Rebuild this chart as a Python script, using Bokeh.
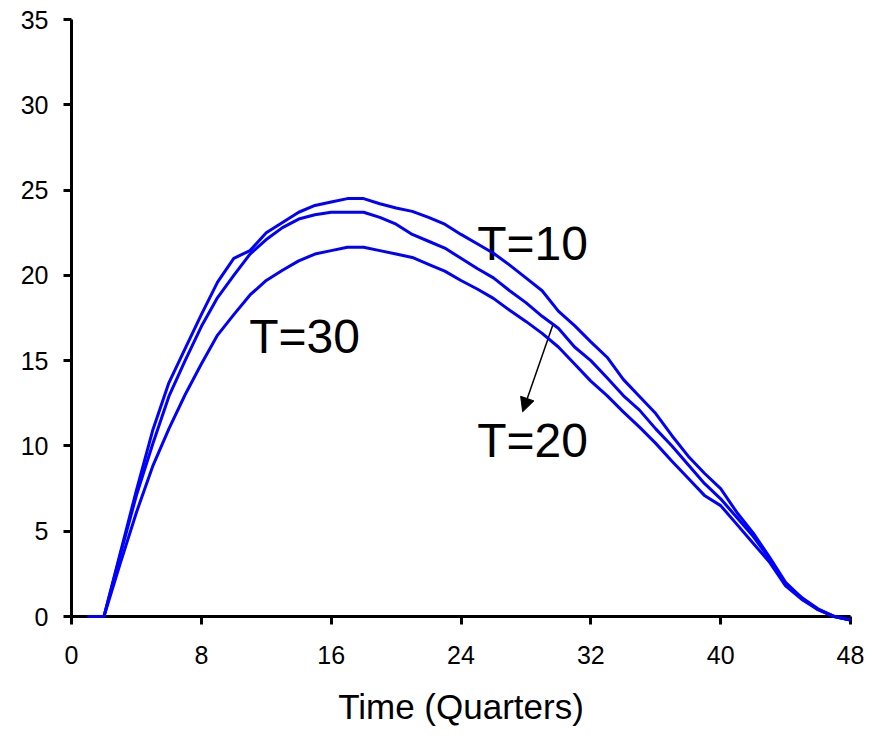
from bokeh.plotting import figure
from bokeh.models import Range1d, FixedTicker, Arrow, NormalHead, Label
from bokeh.embed import file_html
from bokeh.resources import INLINE

quarters = list(range(1, 49))

t10 = [0, 0, 3.7, 7.4, 10.9, 13.7, 15.7, 17.7, 19.6, 21.0,
       21.45, 22.5, 23.1, 23.7, 24.1, 24.3, 24.5, 24.5, 24.2, 23.95,
       23.75, 23.4, 23.0, 22.4, 21.85, 21.3, 20.6, 19.85, 19.1, 17.9,
       17.05, 16.1, 15.2, 13.9, 12.9, 11.9, 10.6, 9.4, 8.4, 7.5,
       6.1, 4.9, 3.5, 2.0, 1.1, 0.45, 0.0, -0.2]

t20 = [0, 0, 3.6, 7.1, 10.1, 12.9, 15.0, 17.0, 18.7, 20.0,
       21.25, 22.1, 22.8, 23.3, 23.55, 23.7, 23.7, 23.7, 23.4, 23.0,
       22.4, 22.0, 21.6, 21.0, 20.4, 19.85, 19.1, 18.4, 17.6, 16.9,
       15.8, 15.0, 14.0, 12.95, 12.1, 11.0, 10.0, 8.9, 7.8, 6.9,
       5.8, 4.7, 3.4, 1.9, 1.1, 0.4, 0.0, -0.2]

t30 = [0, 0, 3.1, 6.1, 8.8, 11.0, 13.0, 14.8, 16.5, 17.7,
       18.85, 19.7, 20.3, 20.85, 21.25, 21.45, 21.65, 21.65, 21.45, 21.25,
       21.05, 20.65, 20.25, 19.7, 19.2, 18.65, 17.95, 17.3, 16.6, 15.8,
       14.8, 13.8, 12.95, 12.0, 11.1, 10.15, 9.1, 8.1, 7.1, 6.5,
       5.4, 4.3, 3.2, 1.8, 1.0, 0.4, 0.0, -0.2]

x_ticks = [0, 8, 16, 24, 32, 40, 48]
y_ticks = [0, 5, 10, 15, 20, 25, 30, 35]

labels = ["T=10", "T=20", "T=30"]
label_x = [25.0, 25.0, 10.95]
label_y = [21.85, 10.3, 16.4]

arrow_start = (29.7, 17.2)
arrow_end = (27.8, 12.0)

FONT = "Liberation Sans"

p = figure(width=864, height=735, output_backend="svg", toolbar_location=None,
           x_range=Range1d(0, 48), y_range=Range1d(0, 35),
           min_border_left=71, min_border_right=14, min_border_top=19,
           min_border_bottom=119)
p.outline_line_color = None
p.xgrid.visible = False
p.ygrid.visible = False
p.background_fill_color = "white"
p.border_fill_color = "white"

for ax in (p.xaxis[0], p.yaxis[0]):
    ax.axis_line_color = "black"
    ax.axis_line_width = 3
    ax.major_tick_line_color = "black"
    ax.major_tick_line_width = 3
    ax.major_tick_out = 8
    ax.major_tick_in = 0
    ax.minor_tick_line_color = None
    ax.major_label_text_font = FONT
    ax.major_label_text_font_size = "25px"
    ax.major_label_text_color = "black"

p.xaxis[0].ticker = FixedTicker(ticks=x_ticks)
p.yaxis[0].ticker = FixedTicker(ticks=y_ticks)
p.xaxis[0].major_label_standoff = 21
p.yaxis[0].major_label_standoff = 15
p.xaxis[0].axis_label = "Time (Quarters)"
p.xaxis[0].axis_label_text_font = FONT
p.xaxis[0].axis_label_text_font_size = "35px"
p.xaxis[0].axis_label_text_font_style = "normal"
p.xaxis[0].axis_label_text_color = "black"
p.xaxis[0].axis_label_standoff = 20

for ys in (t10, t20, t30):
    p.line(quarters, ys, line_color="#0000FF", line_width=3, level="overlay")

for txt, lx, ly in zip(labels, label_x, label_y):
    p.add_layout(Label(x=lx, y=ly, text=txt, text_font=FONT,
                       text_font_size="48px", text_color="black",
                       text_align="left", text_baseline="alphabetic"))

p.add_layout(Arrow(x_start=arrow_start[0], y_start=arrow_start[1],
                   x_end=arrow_end[0], y_end=arrow_end[1],
                   line_color="black", line_width=1.5,
                   end=NormalHead(size=14, fill_color="black", line_color="black")))

open("out.html", "w").write(file_html(p, INLINE))
